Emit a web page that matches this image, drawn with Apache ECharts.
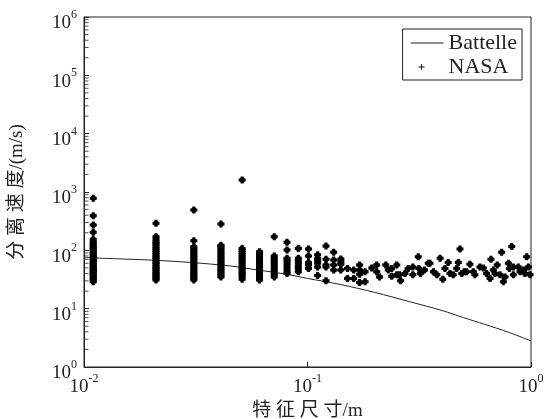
<!DOCTYPE html>
<html>
<head>
<meta charset="utf-8">
<script src="https://cdn.jsdelivr.net/npm/echarts@6/dist/echarts.min.js"></script>
<style>
  html, body { margin: 0; padding: 0; background: #fff; }
  #chart { width: 547px; height: 419px; }
</style>
</head>
<body>
<div id="chart"></div>
<script>
// Battelle model curve
const battelleX = [0.01, 0.015, 0.02, 0.03, 0.045, 0.06, 0.08, 0.1, 0.14, 0.2, 0.29, 0.4, 0.5, 0.62, 0.8, 1.0]
const battelleY = [75, 71, 68, 62, 54, 46, 39, 33, 26, 19, 13, 9.3, 7.0, 5.4, 3.9, 2.8]

// NASA test points, grouped by characteristic size
const colX = [0.011, 0.021, 0.031, 0.041, 0.051, 0.061, 0.071, 0.081, 0.091, 0.101, 0.111, 0.121, 0.131, 0.141, 0.151, 0.161, 0.171, 0.181, 0.194]
const colY = [
  [29, 31, 33, 35, 37, 39, 41, 43, 45, 47, 50, 53, 56, 59, 62, 66, 70, 74, 78, 83, 88, 94, 100, 107, 114, 122, 131, 141, 155, 204, 272, 393, 780],
  [31, 33, 35, 37, 39, 41, 44, 47, 50, 53, 57, 61, 65, 70, 75, 80, 86, 92, 99, 106, 114, 123, 132, 141, 155, 171, 291],
  [31, 33, 35, 37, 40, 43, 46, 49, 53, 57, 61, 66, 71, 76, 82, 88, 95, 102, 109, 115, 146, 490],
  [35, 37, 40, 43, 46, 49, 53, 57, 61, 66, 71, 76, 82, 88, 95, 102, 110, 117, 122, 283],
  [32, 35, 38, 41, 44, 48, 52, 56, 61, 66, 72, 78, 85, 92, 100, 108, 1600],
  [31, 34, 37, 40, 44, 48, 52, 57, 62, 68, 74, 81, 88, 95],
  [35, 38, 42, 46, 51, 56, 62, 68, 74, 80, 171],
  [40, 44, 49, 55, 62, 68, 73, 101, 137],
  [43, 49, 54, 60, 66, 73, 108],
  [49, 56, 62, 80, 105],
  [37, 52, 60, 67, 73, 84],
  [30, 52, 56, 70, 119],
  [46, 56, 68, 93],
  [46, 58, 64, 71],
  [33, 49],
  [33, 46],
  [28, 39, 46, 56],
  [29, 43],
  [50]
]
// scattered points towards larger sizes
const tailX = [0.204, 0.204, 0.21, 0.224, 0.23, 0.238, 0.238, 0.251, 0.251, 0.258, 0.261, 0.273, 0.282, 0.296, 0.296,
  0.313, 0.315, 0.32, 0.334, 0.347, 0.353, 0.366, 0.379, 0.392, 0.403, 0.412, 0.426, 0.434, 0.449, 0.465, 0.473,
  0.481, 0.49, 0.503, 0.515, 0.533, 0.552, 0.561, 0.591, 0.612, 0.633, 0.656, 0.662, 0.678, 0.69, 0.706, 0.726,
  0.739, 0.752, 0.765, 0.792, 0.8, 0.82, 0.834, 0.834, 0.877, 0.893, 0.924, 0.94, 0.957, 0.973, 0.99]
const tailY = [56, 43, 35, 56, 46, 36, 49, 56, 38, 38, 30, 40, 49, 52, 38,
  78, 49, 40, 46, 60, 60, 43, 38, 73, 32, 49, 62, 40, 38, 49, 62,
  105, 40, 43, 43, 58, 43, 38, 52, 50, 40, 33, 70, 46, 40, 56, 38,
  93, 29, 35, 60, 49, 116, 52, 38, 52, 43, 46, 40, 78, 52, 38]

const serif = 'Liberation Serif, Noto Sans CJK SC'
const ink = '#222'

let nasa = []
colX.forEach((x, i) => colY[i].forEach(y => nasa.push([x, y])))
tailX.forEach((x, i) => nasa.push([x, tailY[i]]))
const battelle = battelleX.map((x, i) => [x, battelleY[i]])

// minor ticks 2..9 of each decade on the left axis
let yMinor = []
for (let d = 1; d < 1000000; d *= 10) {
  for (let k = 2; k <= 9; k++) yMinor.push([0.01, k * d])
}

function powLabel (v) {
  const e = Math.round(Math.log10(v))
  return '{b|10}{s|' + (e < 0 ? '-' + (-e) : e) + '}'
}
const labelRich = {
  b: { fontFamily: serif, fontSize: 19, color: ink, lineHeight: 24, verticalAlign: 'bottom' },
  s: { fontFamily: serif, fontSize: 12, color: ink, lineHeight: 12, verticalAlign: 'top' }
}

const dom = document.getElementById('chart')
const chart = echarts.init(dom, null, { renderer: 'canvas' })
const option = {
  animation: false,
  backgroundColor: '#fff',
  grid: {
    left: 84, right: 16, top: 17, bottom: 52,
    outerBoundsMode: 'none',
    containLabel: false,
    show: true, borderColor: ink, borderWidth: 1, backgroundColor: 'transparent'
  },
  legend: {
    orient: 'vertical',
    right: 25,
    top: 29,
    padding: [3, 5, 2, 8],
    itemGap: 2,
    itemWidth: 33,
    itemHeight: 14,
    backgroundColor: '#fff',
    borderColor: ink,
    borderWidth: 1,
    textStyle: { fontFamily: serif, fontSize: 22, color: ink },
    data: [
      { name: 'Battelle', icon: 'path://M0,0L0.01,0L0.01,0.01Z M33,14L32.99,14L32.99,13.99Z M0,6.5H33V7.5H0Z' },
      { name: 'NASA', icon: 'path://M0,0L0.01,0L0.01,0.01Z M33,14L32.99,14L32.99,13.99Z M10.6,4H11.4V6.6H14V7.4H11.4V10H10.6V7.4H8V6.6H10.6Z' }
    ]
  },
  xAxis: {
    type: 'log',
    logBase: 10,
    min: 0.01,
    max: 1,
    splitNumber: 2,
    name: '特 征 尺 寸/m',
    nameLocation: 'middle',
    nameGap: 33,
    nameTextStyle: { fontFamily: serif, fontSize: 19, color: ink },
    axisLine: { show: true, onZero: false, lineStyle: { color: ink, width: 1 } },
    axisTick: { show: true, inside: true, length: 5, lineStyle: { color: ink } },
    axisLabel: { margin: 6, formatter: powLabel, rich: labelRich },
    splitLine: { show: false }
  },
  yAxis: {
    type: 'log',
    logBase: 10,
    min: 1,
    max: 1000000,
    splitNumber: 6,
    name: '分 离 速 度/(m/s)',
    nameLocation: 'middle',
    nameGap: 57,
    nameRotate: 90,
    nameTextStyle: { fontFamily: serif, fontSize: 19, color: ink },
    axisLine: { show: true, lineStyle: { color: ink, width: 1 } },
    axisTick: { show: true, inside: true, length: 5, lineStyle: { color: ink } },
    axisLabel: { margin: 7, padding: [8, 0, 0, 0], formatter: powLabel, rich: labelRich },
    splitLine: { show: false }
  },
  series: [
    {
      name: 'minorTicks',
      type: 'scatter',
      data: yMinor,
      symbol: 'rect',
      symbolSize: [4, 1],
      symbolOffset: [2.5, 0],
      itemStyle: { color: ink },
      silent: true,
      clip: false,
      z: 1
    },
    {
      name: 'Battelle',
      type: 'line',
      data: battelle,
      smooth: 0.3,
      symbol: 'none',
      lineStyle: { color: ink, width: 1 },
      itemStyle: { color: ink },
      z: 3
    },
    {
      name: 'NASA',
      type: 'scatter',
      data: nasa,
      symbol: 'path://M2,0H5V1L6,2H7V5H6L5,6V7H2V6L1,5H0V2H1L2,1Z',
      symbolSize: 7,
      itemStyle: { color: '#000', opacity: 1 },
      z: 4
    }
  ]
}
chart.setOption(option)
</script>
</body>
</html>
